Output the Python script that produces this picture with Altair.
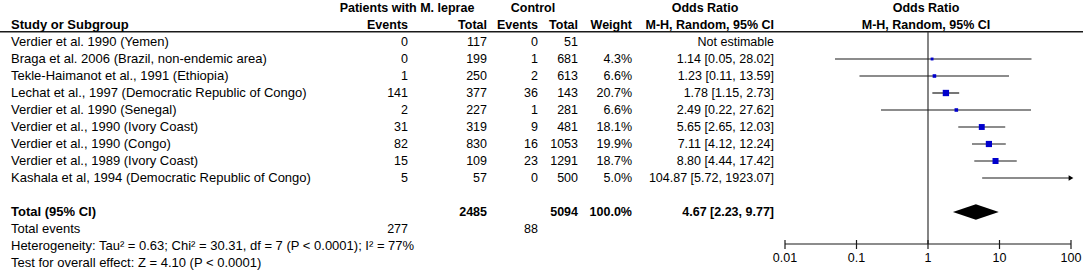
import altair as alt
import pandas as pd

# ---------------- data ----------------
studies = [
    "Verdier et al. 1990 (Yemen)",
    "Braga et al. 2006 (Brazil, non-endemic area)",
    "Tekle-Haimanot et al., 1991 (Ethiopia)",
    "Lechat et al., 1997 (Democratic Republic of Congo)",
    "Verdier et al. 1990 (Senegal)",
    "Verdier et al., 1990 (Ivory Coast)",
    "Verdier et al., 1990 (Congo)",
    "Verdier et al., 1989 (Ivory Coast)",
    "Kashala et al, 1994 (Democratic Republic of Congo)",
]
case_events = [0, 0, 1, 141, 2, 31, 82, 15, 5]
case_total = [117, 199, 250, 377, 227, 319, 830, 109, 57]
ctrl_events = [0, 1, 2, 36, 1, 9, 16, 23, 0]
ctrl_total = [51, 681, 613, 143, 281, 481, 1053, 1291, 500]
weights = [None, 4.3, 6.6, 20.7, 6.6, 18.1, 19.9, 18.7, 5.0]
or_est = [None, 1.14, 1.23, 1.78, 2.49, 5.65, 7.11, 8.80, 104.87]
or_lo = [None, 0.05, 0.11, 1.15, 0.22, 2.65, 4.12, 4.44, 5.72]
or_hi = [None, 28.02, 13.59, 2.73, 27.62, 12.03, 12.24, 17.42, 1923.07]

total_case = 2485
total_ctrl = 5094
total_weight = 100.0
total_or = [4.67, 2.23, 9.77]          # estimate, lower, upper
total_events = [277, 88]
heterogeneity = "Heterogeneity: Tau\u00b2 = 0.63; Chi\u00b2 = 30.31, df = 7 (P < 0.0001); I\u00b2 = 77%"
overall = "Test for overall effect: Z = 4.10 (P < 0.0001)"
axis_ticks = [0.01, 0.1, 1, 10, 100]
axis_labels = ["0.01", "0.1", "1", "10", "100"]

# ---------------- tables ----------------
n = len(studies)
df = pd.DataFrame({
    "row": list(range(n)),
    "study": studies,
    "ce": [str(v) for v in case_events],
    "ct": [str(v) for v in case_total],
    "ke": [str(v) for v in ctrl_events],
    "kt": [str(v) for v in ctrl_total],
    "w": weights,
    "est": or_est,
    "lo": or_lo,
    "hi": or_hi,
})
df["wtxt"] = [("" if w is None or pd.isna(w) else f"{w:.1f}%") for w in df["w"]]
df["ortxt"] = [
    "Not estimable" if pd.isna(e) else f"{e:.2f} [{l:.2f}, {h:.2f}]"
    for e, l, h in zip(df["est"], df["lo"], df["hi"])
]
est_df = df.dropna(subset=["est"])

ROW_TOTAL, ROW_EVENTS, ROW_HET, ROW_TEST = n + 1, n + 2, n + 3, n + 4
total_df = pd.DataFrame({
    "row": [ROW_TOTAL],
    "label": ["Total (95% CI)"],
    "ct": [str(total_case)],
    "kt": [str(total_ctrl)],
    "wtxt": [f"{total_weight:.1f}%"],
    "ortxt": [f"{total_or[0]:.2f} [{total_or[1]:.2f}, {total_or[2]:.2f}]"],
})
events_df = pd.DataFrame({
    "row": [ROW_EVENTS], "label": ["Total events"],
    "ce": [str(total_events[0])], "ke": [str(total_events[1])],
})
notes_df = pd.DataFrame({"row": [ROW_HET, ROW_TEST], "label": [heterogeneity, overall]})

HALF = 0.45
diamond_df = pd.DataFrame({
    "x": [total_or[1], total_or[0], total_or[2]],
    "y1": [ROW_TOTAL, ROW_TOTAL - HALF, ROW_TOTAL],
    "y2": [ROW_TOTAL, ROW_TOTAL + HALF, ROW_TOTAL],
})

ticks_df = pd.DataFrame({"v": axis_ticks, "lab": axis_labels})
axis_df = pd.DataFrame({"a": [min(axis_ticks)], "b": [max(axis_ticks)]})

# ---------------- layout / style ----------------
FONT = "Liberation Sans, Arial, sans-serif"
FS = 12.5
FS_LEFT = 13
yscale = alt.Scale(domain=[-2, 13], range=[8, 263])
xscale = alt.Scale(type="log", domain=[0.01, 100], range=[785, 1071], clamp=True)
Y = alt.Y("row:Q", scale=yscale, axis=None)
INK = "#1a1a1a"


def txt(data, field, x, align="right", bold=False, size=None):
    return alt.Chart(data).mark_text(
        align=align, baseline="middle", font=FONT,
        fontSize=size if size else (FS_LEFT if align == "left" else FS),
        fontWeight="bold" if bold else "normal", color="black",
    ).encode(x=alt.value(x), y=Y, text=alt.Text(f"{field}:N"))


def label(text, row, x, align="right", bold=True, size=None):
    return alt.Chart(pd.DataFrame({"row": [row], "t": [text]})).mark_text(
        align=align, baseline="middle", font=FONT, fontSize=size if size else FS,
        fontWeight="bold" if bold else "normal", color="black",
    ).encode(x=alt.value(x), y=Y, text="t:N")


X_STUDY, X_CE, X_CT, X_KE, X_KT, X_W, X_OR = 11, 408, 487, 538, 578, 632, 774

headers = [
    label("Patients with M. leprae", -2, 407, "center"),
    label("Control", -2, 533, "center"),
    label("Odds Ratio", -2, 705, "center"),
    label("Odds Ratio", -2, 926, "center"),
    label("Study or Subgroup", -1, X_STUDY, "left", size=FS_LEFT),
    label("Events", -1, X_CE),
    label("Total", -1, X_CT),
    label("Events", -1, X_KE),
    label("Total", -1, X_KT),
    label("Weight", -1, X_W),
    label("M-H, Random, 95% CI", -1, X_OR),
    label("M-H, Random, 95% CI", -1, 926, "center"),
]

header_rule = alt.Chart(pd.DataFrame({"row": [-0.6]})).mark_rule(
    color=INK, strokeWidth=1.5
).encode(x=alt.value(0), x2=alt.value(1083), y=Y)

study_cols = [
    txt(df, "study", X_STUDY, "left"),
    txt(df, "ce", X_CE), txt(df, "ct", X_CT),
    txt(df, "ke", X_KE), txt(df, "kt", X_KT),
    txt(df, "wtxt", X_W), txt(df, "ortxt", X_OR),
]
total_cols = [
    txt(total_df, "label", X_STUDY, "left", True),
    txt(total_df, "ct", X_CT, bold=True),
    txt(total_df, "kt", X_KT, bold=True),
    txt(total_df, "wtxt", X_W, bold=True),
    txt(total_df, "ortxt", X_OR, bold=True),
    txt(events_df, "label", X_STUDY, "left"),
    txt(events_df, "ce", X_CE),
    txt(events_df, "ke", X_KE),
    txt(notes_df, "label", X_STUDY, "left"),
]

# forest plot
AXIS_Y = 244
null_line = alt.Chart(pd.DataFrame({"v": [1], "r1": [-0.6]})).mark_rule(
    color="#333", strokeWidth=1.2
).encode(x=alt.X("v:Q", scale=xscale, axis=None),
         y=alt.Y("r1:Q", scale=yscale, axis=None), y2=alt.value(AXIS_Y))

ci = alt.Chart(est_df).mark_rule(color=INK, strokeWidth=1.2).encode(
    x=alt.X("lo:Q", scale=xscale, axis=None), x2="hi:Q", y=Y
)
squares = alt.Chart(est_df).transform_filter("datum.est <= 100").mark_square(
    color="#0000CC", opacity=1
).encode(
    x=alt.X("est:Q", scale=xscale, axis=None), y=Y,
    size=alt.Size("w:Q", scale=alt.Scale(domain=[0, 20.7], range=[0, 40]), legend=None),
)
arrows = alt.Chart(est_df).transform_filter("datum.hi > 100").mark_point(
    shape="triangle-right", filled=True, color="black", size=30, opacity=1
).encode(x=alt.X("hi:Q", scale=xscale, axis=None), y=Y)

diamond = alt.Chart(diamond_df).mark_area(color="black", orient="vertical").encode(
    x=alt.X("x:Q", scale=xscale, axis=None),
    y=alt.Y("y1:Q", scale=yscale, axis=None), y2="y2:Q",
)

axis_line = alt.Chart(axis_df).mark_rule(color=INK, strokeWidth=1.2).encode(
    x=alt.X("a:Q", scale=xscale, axis=None), x2="b:Q", y=alt.value(AXIS_Y)
)
tick_marks = alt.Chart(ticks_df).mark_rule(color=INK, strokeWidth=1.2).encode(
    x=alt.X("v:Q", scale=xscale, axis=None), y=alt.value(240), y2=alt.value(249)
)
tick_labels = alt.Chart(ticks_df).mark_text(
    align="center", baseline="middle", font=FONT, fontSize=FS, color="black"
).encode(x=alt.X("v:Q", scale=xscale, axis=None), y=alt.value(258), text="lab:N")

chart = alt.layer(
    header_rule, *headers, *study_cols, *total_cols,
    null_line, ci, squares, arrows, diamond, axis_line, tick_marks, tick_labels,
).properties(
    width=1084, height=274, padding=0,
    autosize=alt.AutoSizeParams(type="none"),
    background="white",
).configure_view(stroke=None)

chart.save("out.html", embed_options={"renderer": "svg", "actions": False})
